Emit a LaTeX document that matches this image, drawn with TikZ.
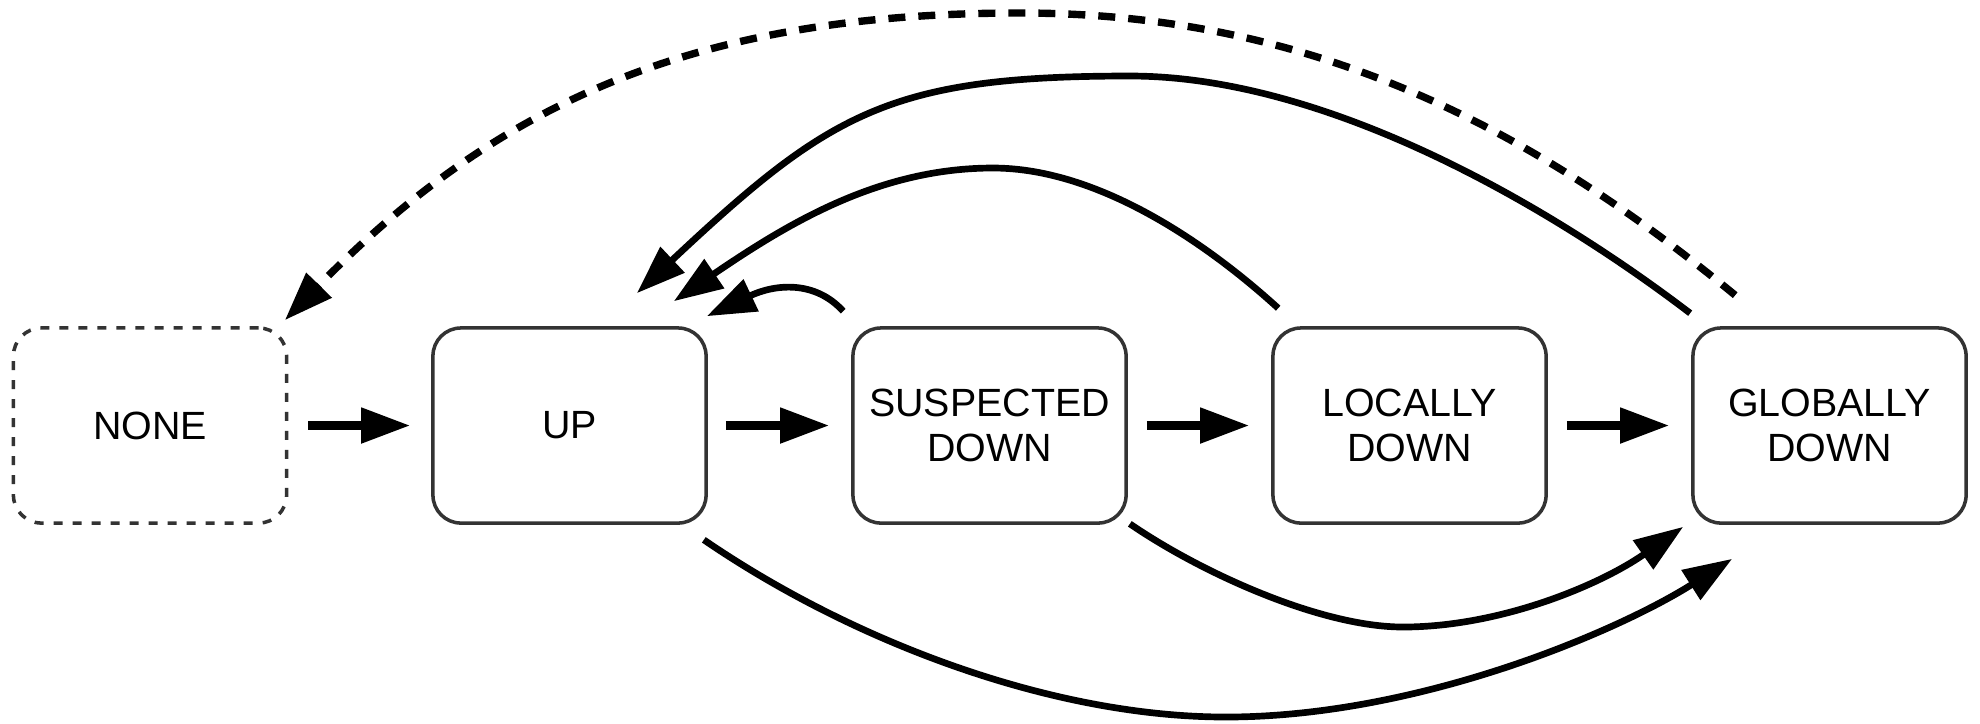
\documentclass[tikz,border=0pt]{standalone}
\usepackage{fontspec}
\setmainfont{Liberation Sans}
\usetikzlibrary{arrows.meta,calc}
\definecolor{edge}{HTML}{333333}
\begin{document}
\begin{tikzpicture}[x=0.01cm,y=-0.01cm,
  state/.style={draw=edge,line width=1pt,rounded corners=0.28cm,
    minimum width=2.73cm,minimum height=1.95cm,inner sep=0pt,
    align=center,font=\fontsize{11.2}{12.8}\selectfont},
  ghost/.style={state,dash pattern=on 0.09cm off 0.1cm},
  tip/.style={-{Triangle[length=0.49cm,width=0.34cm]}},
  flow/.style={tip,line width=2.3pt},
  curve/.style={tip,line width=1.9pt},
  dcurve/.style={tip,line width=2.1pt,dash pattern=on 0.17cm off 0.13cm}]
\useasboundingbox (0,0) rectangle (1980,723);

% states
\node[ghost] (none) at (150,425.5) {NONE};
\node[state] (up)   at (569.5,425.5) {UP};
\node[state] (susp) at (989.5,425.5) {SUSPECTED\\DOWN};
\node[state] (loc)  at (1409.5,425.5) {LOCALLY\\DOWN};
\node[state] (glob) at (1829.5,425.5) {GLOBALLY\\DOWN};

% forward transitions
\draw[flow] ($(none.east)+(20,0)$) -- ($(up.west)+(-21,0)$);
\draw[flow] ($(up.east)+(18,0)$) -- ($(susp.west)+(-22,0)$);
\draw[flow] ($(susp.east)+(19,0)$) -- ($(loc.west)+(-22,0)$);
\draw[flow] ($(loc.east)+(19,0)$) -- ($(glob.west)+(-22,0)$);

% back to NONE
\draw[dcurve] ($(glob.north west)+(44,-31)$)
  .. controls (1520,118) and (1300,13) .. (1020,13)
  .. controls (700,13) and (500,100) .. ($(none.north east)+(-3.5,-6)$);

% back to UP
\draw[curve] ($(glob.north west)+(-1,-13)$)
  .. controls (1555,210) and (1330,76) .. (1130,76)
  .. controls (890,76) and (830,112) .. ($(up.north east)+(-71,-33)$);
\draw[curve] ($(loc.north west)+(7,-18)$)
  .. controls (1210,246) and (1100,168) .. (993,168)
  .. controls (880,168) and (790,222) .. ($(up.north east)+(-34,-25)$);
\draw[curve] ($(susp.north west)+(-8,-15)$)
  .. controls (815,280) and (775,284) .. ($(up.north east)+(-1,-10)$);

% jumps to GLOBALLY DOWN
\draw[curve] ($(up.south east)+(-4,15)$)
  .. controls (850,640) and (1050,717) .. (1226,717)
  .. controls (1420,717) and (1620,630) .. ($(glob.south west)+(41,34)$);
\draw[curve] ($(susp.south east)+(2,-1)$)
  .. controls (1200,572) and (1320,627) .. (1403,627)
  .. controls (1500,627) and (1600,585) .. ($(glob.south west)+(-8,2)$);
\end{tikzpicture}
\end{document}
